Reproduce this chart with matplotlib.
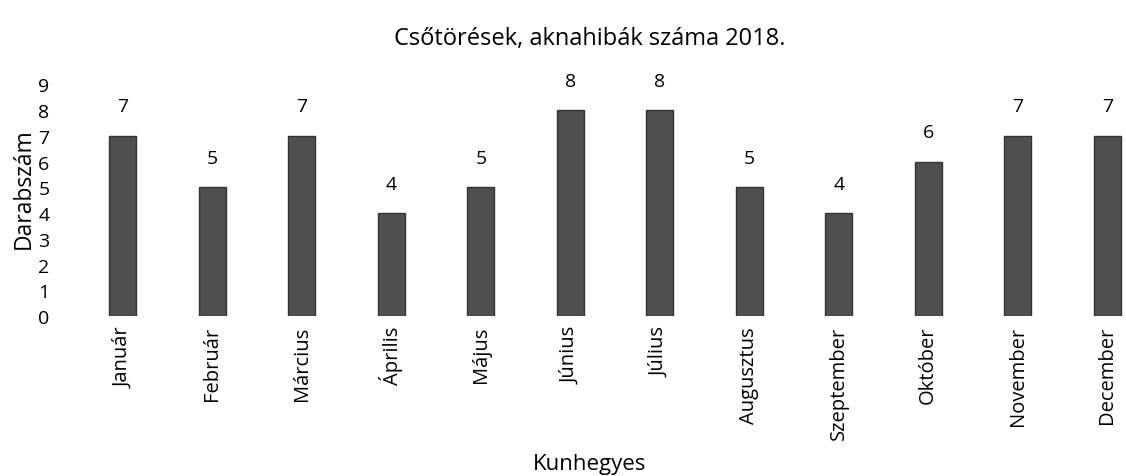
import numpy as np
import matplotlib.pyplot as plt

plt.rcParams['font.family'] = ['Open Sans', 'DejaVu Sans']

months = ["Január", "Február", "Március", "Április", "Május", "Június",
          "Július", "Augusztus", "Szeptember", "Október", "November", "December"]
counts = [7, 5, 7, 4, 5, 8, 8, 5, 4, 6, 7, 7]

fig = plt.figure(figsize=(11.26, 4.77), dpi=100)
ax = fig.add_axes([0.071, 0.335, 0.929, 0.54])

x = np.arange(len(months))
ax.bar(x, counts, width=0.3, color="#4f4f4f", edgecolor="#333333", linewidth=1)
for xi, v in zip(x, counts):
    ax.text(xi, v + 1.15, str(v), ha="center", va="center", fontsize=14)

ax.set_xlim(-0.48, 11.21)
ax.set_ylim(0, 10)
ax.set_yticks(range(10))
ax.set_xticks(x)
ax.set_xticklabels(months, rotation=90, fontsize=14.5)
ax.tick_params(axis="both", length=0)
ax.tick_params(axis="y", labelsize=14, pad=22)
ax.tick_params(axis="x", pad=7)
for s in ax.spines.values():
    s.set_visible(False)

ax.set_ylabel("Darabszám", fontsize=16.5, labelpad=2)
fig.text(0.524, 0.015, "Kunhegyes", ha="center", fontsize=16)
fig.text(0.524, 0.905, "Csőtörések, aknahibák száma 2018.", ha="center", fontsize=17)

fig.savefig("out.png", dpi=100)
